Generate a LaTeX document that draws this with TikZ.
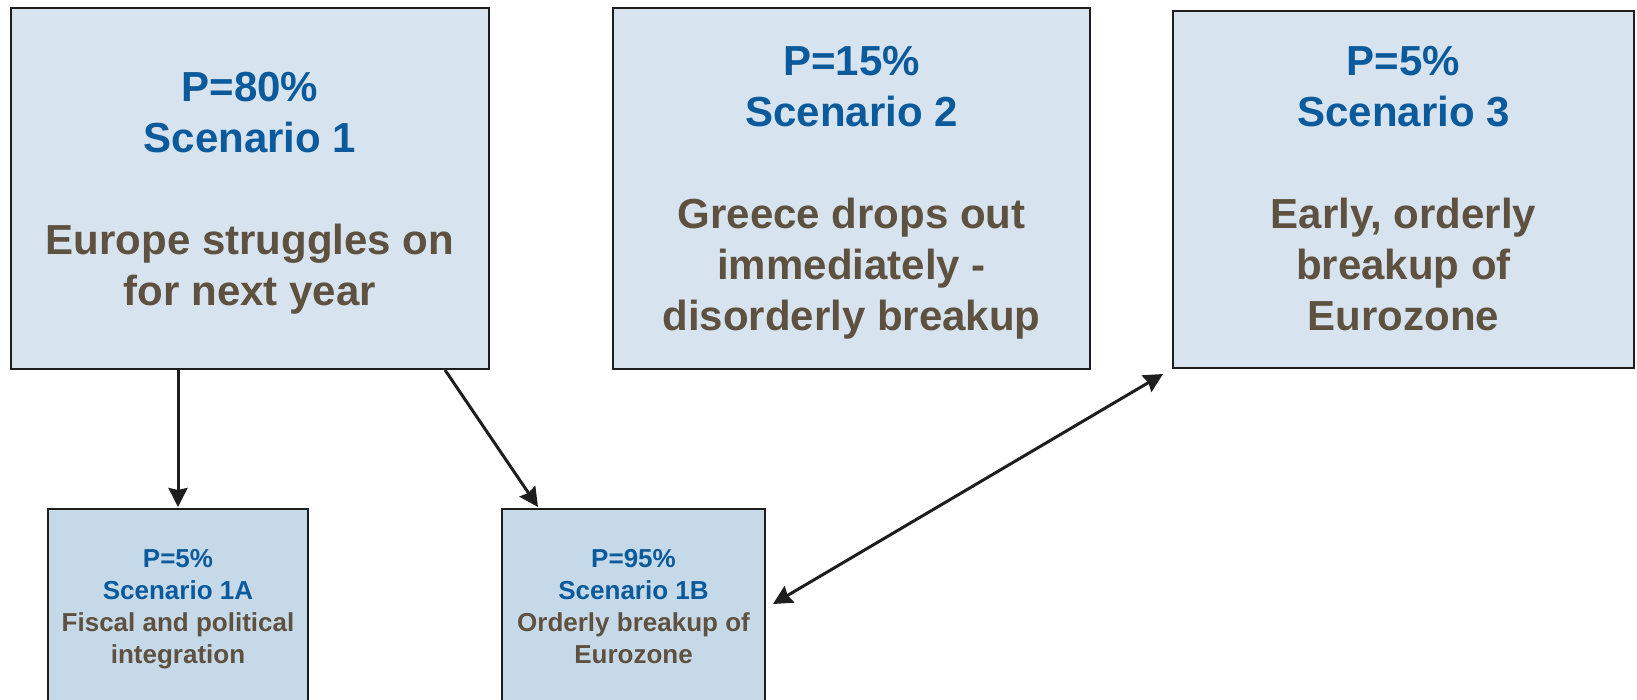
\documentclass[tikz,border=0pt]{standalone}
\usepackage{fontspec}
\setmainfont{Liberation Sans}
\usetikzlibrary{arrows.meta,calc}
\definecolor{boxfill}{HTML}{D7E3EE}
\definecolor{subfill}{HTML}{C6D9E8}
\definecolor{pblue}{HTML}{0B5A9C}
\definecolor{tbrown}{HTML}{5E5140}
\definecolor{edgecol}{HTML}{1E1E1E}
\newcommand\blu[1]{\textcolor{pblue}{#1}}
\tikzset{
  bigbox/.style={draw=edgecol, line width=2pt, fill=boxfill, inner sep=0pt, rectangle},
  smallbox/.style={draw=edgecol, line width=2pt, fill=subfill, inner sep=0pt, rectangle},
  bigtext/.style={align=center, font=\bfseries\fontsize{42}{51}\selectfont, text=tbrown, inner sep=0pt},
  smalltext/.style={align=center, font=\bfseries\fontsize{26}{32}\selectfont, text=tbrown, inner sep=0pt},
  conn/.style={line width=3pt, draw=edgecol, -{Stealth[length=19pt,width=19pt,inset=2pt]}},
  dconn/.style={line width=3pt, draw=edgecol, {Stealth[length=19pt,width=19pt,inset=2pt]}-{Stealth[length=19pt,width=19pt,inset=2pt]}}
}
\begin{document}
\begin{tikzpicture}[x=1pt,y=-1pt]
\clip (0,0) rectangle (1637,700);
\fill[white] (0,0) rectangle (1637,700);
% boxes
\node[bigbox, minimum width=478pt, minimum height=361pt] (s1) at (250,188.5) {};
\node[bigbox, minimum width=477pt, minimum height=361pt] (s2) at (851.5,188.5) {};
\node[bigbox, minimum width=461pt, minimum height=357pt] (s3) at (1403.5,189.5) {};
\node[smallbox, minimum width=260pt, minimum height=211pt] (s1a) at (178,614.5) {};
\node[smallbox, minimum width=263pt, minimum height=211pt] (s1b) at (633.5,614.5) {};
% texts
\node[bigtext] (t1) at (250,193) {\blu{P=80\%}\\\blu{Scenario 1}\\[51pt]Europe struggles on\\for next year};
\node[bigtext] (t2) at (851.5,193) {\blu{P=15\%}\\\blu{Scenario 2}\\[51pt]Greece drops out\\immediately -\\disorderly breakup};
\node[bigtext] (t3) at (1403.5,189) {\blu{P=5\%}\\\blu{Scenario 3}\\[51pt]Early, orderly\\breakup of\\Eurozone};
\node[smalltext] (t1a) at (178,609) {\blu{P=5\%}\\\blu{Scenario 1A}\\Fiscal and political\\integration};
\node[smalltext] (t1b) at (633.5,606.5) {\blu{P=95\%}\\\blu{Scenario 1B}\\Orderly breakup of\\Eurozone};
% connectors
\draw[conn] (s1a.north |- s1.south) -- ($(s1a.north)+(0,-1)$);
\draw[conn] ($(s1.south east)+(-45,0)$) -- ($(s1b.north west)+(37,-1)$);
\draw[dconn] ($(s1b.north east)+(7,96)$) -- ($(s3.south west)+(-9,5)$);
\end{tikzpicture}
\end{document}
